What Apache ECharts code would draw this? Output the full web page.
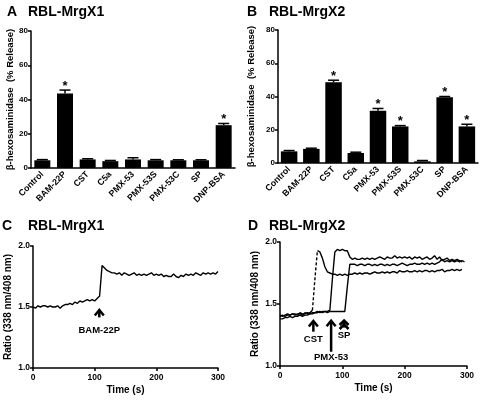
<!DOCTYPE html>
<html><head><meta charset="utf-8">
<script src="https://cdn.jsdelivr.net/npm/echarts@6/dist/echarts.min.js"></script>
<style>html,body{margin:0;padding:0;background:#fff}#c{width:480px;height:400px}</style>
</head><body><div id="c"></div>
<script>
// ---------- data ----------
const cats = ['Control','BAM-22P','CST','C5a','PMX-53','PMX-53S','PMX-53C','SP','DNP-BSA'];
const meanA = [4.5, 43.5, 5, 4, 5, 4.5, 4.5, 4.5, 25];
const semA  = [0.4, 2.0, 0.4, 0.4, 1.0, 0.4, 0.3, 0.3, 1.0];
const sigA  = [0, 1, 0, 0, 0, 0, 0, 0, 1];
const meanB = [7, 8.5, 48.5, 6, 31.5, 22, 1, 39.5, 22];
const semB  = [0.5, 0.4, 1.3, 0.5, 1.3, 0.5, 0.5, 0.5, 1.3];
const sigB  = [0, 0, 1, 0, 1, 1, 0, 1, 1];

const timeS = [0,4,8,12,16,20,24,28,32,36,40,44,48,52,56,60,64,68,72,76,80,84,88,92,96,100,
  104,108,112,116,120,124,128,132,136,140,144,148,152,156,160,164,168,172,176,180,184,188,192,196,200,
  204,208,212,216,220,224,228,232,236,240,244,248,252,256,260,264,268,272,276,280,284,288,292,296,300];

const ratioC = [1.50,1.49,1.51,1.50,1.51,1.51,1.50,1.51,1.50,1.50,1.51,1.49,1.51,1.52,1.52,1.53,1.52,1.54,1.53,1.55,1.54,1.55,1.56,1.55,1.56,1.55,
  1.57,1.59,1.84,1.82,1.80,1.79,1.78,1.78,1.77,1.78,1.76,1.78,1.77,1.76,1.77,1.78,1.76,1.77,1.76,1.77,1.76,1.77,1.78,1.76,1.77,
  1.76,1.77,1.75,1.76,1.75,1.75,1.77,1.75,1.74,1.76,1.75,1.77,1.76,1.77,1.76,1.78,1.77,1.76,1.78,1.77,1.78,1.77,1.78,1.77,1.79];

const ratioCST = [1.40,1.41,1.40,1.41,1.41,1.42,1.41,1.42,1.42,1.41,1.43,1.42,1.43,1.45,1.70,1.93,1.92,1.87,1.80,1.76,1.75,1.74,1.74,1.73,1.74,1.73,
  1.74,1.73,1.74,1.74,1.75,1.74,1.75,1.74,1.75,1.75,1.74,1.75,1.76,1.75,1.75,1.76,1.75,1.76,1.75,1.76,1.76,1.75,1.77,1.76,1.76,
  1.77,1.76,1.76,1.77,1.76,1.77,1.76,1.77,1.77,1.76,1.77,1.76,1.77,1.77,1.78,1.76,1.77,1.77,1.78,1.77,1.78,1.77,1.78,null,null];

const ratioPMX = [1.38,1.38,1.39,1.39,1.40,1.39,1.40,1.40,1.41,1.40,1.41,1.41,1.42,1.42,1.43,1.43,1.44,1.43,1.44,1.44,1.45,1.70,1.92,1.94,1.93,1.94,
  1.93,1.93,1.88,1.86,1.87,1.86,1.86,1.87,1.86,1.87,1.86,1.87,1.86,1.87,1.88,1.87,1.86,1.88,1.87,1.87,1.89,1.87,1.88,1.87,1.88,
  1.87,1.88,1.86,1.88,1.87,1.88,1.86,1.87,1.88,1.86,1.87,1.89,1.86,1.88,1.85,1.86,1.87,1.85,1.86,1.85,1.86,1.85,1.84,null,null];

const ratioSP = [1.41,1.40,1.41,1.42,1.41,1.42,1.42,1.41,1.43,1.42,1.42,1.43,1.42,1.43,1.43,1.44,1.43,1.44,1.44,1.43,1.44,1.44,1.44,1.44,1.44,1.44,
  1.44,1.64,1.82,1.82,1.82,1.81,1.82,1.82,1.81,1.82,1.82,1.81,1.82,1.81,1.82,1.82,1.81,1.82,1.81,1.82,1.82,1.81,1.82,1.83,1.82,
  1.81,1.82,1.82,1.83,1.82,1.82,1.83,1.82,1.83,1.82,1.83,1.82,1.83,1.84,1.86,1.84,1.85,1.84,1.85,1.84,1.85,1.84,1.85,1.84,null];

const dashFrom = 13, dashTo = 15; // CST rise drawn dashed

// arrow annotations [time, tip, base, labelY]
const arrowLabelsC = ['BAM-22P'];
const arrowTimeC = [107.5];
const arrowTipC  = [1.476];
const arrowBaseC = [1.415];
const arrowTextC = [1.31];
const arrowHeadsC = [1];

const arrowLabelsD = ['CST', 'PMX-53', 'SP'];
const arrowTimeD = [53.5, 82, 102.8];
const arrowTipD  = [1.363, 1.365, 1.367];
const arrowBaseD = [1.277, 1.115, 1.31];
const arrowTextD = [1.218, 1.073, 1.245];
const arrowHeadsD = [1, 1, 2];

// ---------- helpers ----------
const FF = '"Liberation Sans", Arial, sans-serif';
const black = '#000';
function pairs(ts, vs, mask) {
  return ts.map((t, i) => [t, (vs[i] == null || (mask && mask(i))) ? '-' : vs[i]]);
}
function errRender(params, api) {
  const i = api.value(0), m = api.value(1), s = api.value(2), sig = api.value(3);
  const base = api.coord([i, m]);
  const top = api.coord([i, m + s]);
  const ch = [];
  ch.push({type: 'line', shape: {x1: base[0], y1: base[1], x2: top[0], y2: top[1]}, style: {stroke: black, lineWidth: 1.5}});
  ch.push({type: 'line', shape: {x1: top[0] - 5.5, y1: top[1], x2: top[0] + 5.5, y2: top[1]}, style: {stroke: black, lineWidth: 1.5}});
  if (sig) ch.push({type: 'text', style: {text: '*', x: top[0], y: top[1] - 4, align: 'center', verticalAlign: 'middle',
      fontSize: 13, fontWeight: 'bold', fontFamily: FF, fill: black}});
  return {type: 'group', children: ch};
}
function arrowRender(labels) {
  return function (params, api) {
    const t = api.value(0), tip = api.coord([t, api.value(1)]), base = api.coord([t, api.value(2)]);
    const txt = api.coord([t, api.value(3)]), heads = api.value(4);
    const ch = [];
    ch.push({type: 'line', shape: {x1: tip[0], y1: tip[1] + 1, x2: base[0], y2: base[1]}, style: {stroke: black, lineWidth: 2.5}});
    const hh = heads > 1 ? 4.5 : 5.5;
    for (let h = 0; h < heads; h++) {
      const y = tip[1] + h * 4;
      ch.push({type: 'polyline', shape: {points: [[tip[0] - 4.5, y + hh], [tip[0], y], [tip[0] + 4.5, y + hh]]},
        style: {stroke: black, lineWidth: 2.5, fill: null, lineJoin: 'miter'}});
    }
    ch.push({type: 'text', style: {text: labels[params.dataIndex], x: txt[0], y: txt[1], align: 'center', verticalAlign: 'middle',
      fontSize: 9.5, fontWeight: 'bold', fontFamily: FF, fill: black}});
    return {type: 'group', children: ch};
  };
}
const axisLine = {show: true, lineStyle: {color: black, width: 1.5}};
const tickOut = {show: true, length: 3, lineStyle: {color: black, width: 1.5}};
const lblStyle = {color: black, fontSize: 8.5, fontWeight: 'bold', fontFamily: FF};
const nameStyle = (sz) => ({color: black, fontSize: sz, fontWeight: 'bold', fontFamily: FF});
const titleStyle = {color: black, fontSize: 14, fontWeight: 'bold', fontFamily: FF};

function catX(gi) {
  return {type: 'category', gridIndex: gi, data: cats, axisLine: axisLine, axisTick: {show: false},
    axisLabel: Object.assign({rotate: 45, interval: 0, margin: 5}, lblStyle, {fontSize: 8.8})};
}
function barY(gi, gap) {
  return {type: 'value', gridIndex: gi, min: 0, max: 80, interval: 20, axisLine: axisLine, axisTick: tickOut,
    splitLine: {show: false}, axisLabel: Object.assign({margin: 3}, lblStyle, {fontSize: 8}),
    name: 'β-hexosaminidase  (% Release)', nameLocation: 'middle', nameGap: gap, nameTextStyle: nameStyle(9.5)};
}
function timeX(gi) {
  return {type: 'value', gridIndex: gi, min: 0, max: 300, interval: 100, axisLine: axisLine, axisTick: tickOut,
    splitLine: {show: false}, axisLabel: Object.assign({margin: 5}, lblStyle),
    name: 'Time (s)', nameLocation: 'middle', nameGap: 17, nameTextStyle: nameStyle(10)};
}
function ratioY(gi) {
  return {type: 'value', gridIndex: gi, min: 1, max: 2, interval: 0.5, axisLine: axisLine, axisTick: tickOut,
    splitLine: {show: false}, axisLabel: Object.assign({margin: 3, formatter: v => v.toFixed(1)}, lblStyle),
    name: 'Ratio (338 nm/408 nm)', nameLocation: 'middle', nameGap: 20, nameTextStyle: nameStyle(10)};
}
function lineS(xi, data, dashed) {
  return {type: 'line', xAxisIndex: xi, yAxisIndex: xi, data: data, symbol: 'none', connectNulls: false,
    lineStyle: {color: black, width: 1.4, type: dashed ? [3, 2] : 'solid'}, silent: true};
}

const option = {
  animation: false,
  backgroundColor: '#fff',
  textStyle: {fontFamily: FF},
  title: [
    {text: 'A', left: 7, top: 5, padding: 0, textStyle: titleStyle},
    {text: 'RBL-MrgX1', left: 28, top: 5, padding: 0, textStyle: titleStyle},
    {text: 'B', left: 247, top: 5, padding: 0, textStyle: titleStyle},
    {text: 'RBL-MrgX2', left: 269, top: 5, padding: 0, textStyle: titleStyle},
    {text: 'C', left: 2, top: 219, padding: 0, textStyle: titleStyle},
    {text: 'RBL-MrgX1', left: 28, top: 219, padding: 0, textStyle: titleStyle},
    {text: 'D', left: 248, top: 219, padding: 0, textStyle: titleStyle},
    {text: 'RBL-MrgX2', left: 269, top: 219, padding: 0, textStyle: titleStyle}
  ],
  grid: [
    {left: 31, top: 31, width: 204, height: 137, containLabel: false, outerBoundsMode: 'none'},
    {left: 278, top: 30, width: 200, height: 133, containLabel: false, outerBoundsMode: 'none'},
    {left: 33, top: 246, width: 185, height: 122, containLabel: false, outerBoundsMode: 'none'},
    {left: 280, top: 242, width: 187, height: 124, containLabel: false, outerBoundsMode: 'none'}
  ],
  xAxis: [catX(0), catX(1), timeX(2), timeX(3)],
  yAxis: [barY(0, 14), barY(1, 22), ratioY(2), ratioY(3)],
  series: [
    {type: 'bar', xAxisIndex: 0, yAxisIndex: 0, data: meanA, barWidth: 16, itemStyle: {color: black}, silent: true},
    {type: 'custom', xAxisIndex: 0, yAxisIndex: 0, renderItem: errRender, silent: true,
      data: meanA.map((m, i) => [i, m, semA[i], sigA[i]])},
    {type: 'bar', xAxisIndex: 1, yAxisIndex: 1, data: meanB, barWidth: 16.5, itemStyle: {color: black}, silent: true},
    {type: 'custom', xAxisIndex: 1, yAxisIndex: 1, renderItem: errRender, silent: true,
      data: meanB.map((m, i) => [i, m, semB[i], sigB[i]])},
    lineS(2, pairs(timeS, ratioC)),
    {type: 'custom', xAxisIndex: 2, yAxisIndex: 2, renderItem: arrowRender(arrowLabelsC), silent: true,
      data: arrowTimeC.map((t, i) => [t, arrowTipC[i], arrowBaseC[i], arrowTextC[i], arrowHeadsC[i]])},
    lineS(3, pairs(timeS, ratioCST, i => i > dashFrom && i < dashTo)),
    lineS(3, pairs(timeS.slice(dashFrom, dashTo + 1), ratioCST.slice(dashFrom, dashTo + 1)), true),
    lineS(3, pairs(timeS, ratioPMX)),
    lineS(3, pairs(timeS, ratioSP)),
    {type: 'custom', xAxisIndex: 3, yAxisIndex: 3, renderItem: arrowRender(arrowLabelsD), silent: true,
      data: arrowTimeD.map((t, i) => [t, arrowTipD[i], arrowBaseD[i], arrowTextD[i], arrowHeadsD[i]])}
  ]
};
const chart = echarts.init(document.getElementById('c'), null, {renderer: 'canvas'});
chart.setOption(option);
</script>
</body></html>
